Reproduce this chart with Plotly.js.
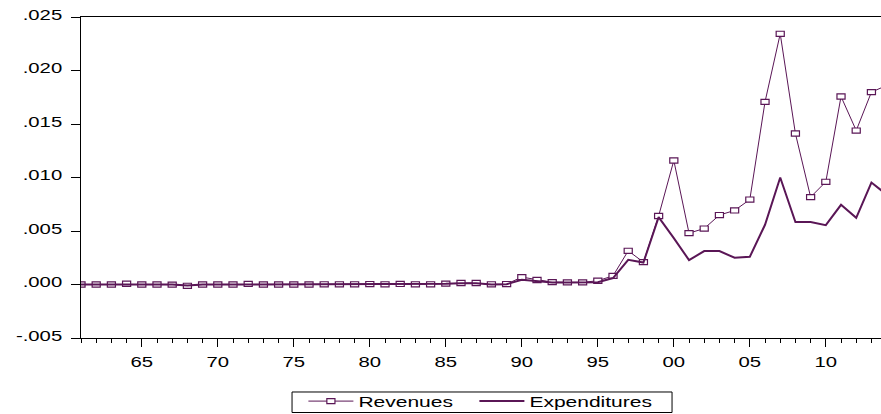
<!DOCTYPE html>
<html><head><meta charset="utf-8">
<script src="https://cdn.plot.ly/plotly-3.0.1.min.js"></script>
<style>html,body{margin:0;padding:0;background:#fff;} #chart{width:881px;height:414px;}</style>
</head><body><div id="chart"></div>
<script>
const years = [1961,1962,1963,1964,1965,1966,1967,1968,1969,1970,
  1971,1972,1973,1974,1975,1976,1977,1978,1979,1980,
  1981,1982,1983,1984,1985,1986,1987,1988,1989,1990,
  1991,1992,1993,1994,1995,1996,1997,1998,1999,2000,
  2001,2002,2003,2004,2005,2006,2007,2008,2009,2010,
  2011,2012,2013,2014];
const revenues = [0.00000,0.00000,0.00000,0.00007,0.00000,0.00000,-0.00001,-0.00012,0.00000,0.00000,
  0.00000,0.00005,0.00000,0.00000,0.00000,0.00000,0.00002,0.00002,0.00002,0.00004,
  0.00002,0.00005,0.00002,0.00002,0.00008,0.00014,0.00014,0.00002,0.00004,0.00069,
  0.00042,0.00022,0.00020,0.00020,0.00035,0.00081,0.00315,0.00209,0.00640,0.01159,
  0.00480,0.00523,0.00649,0.00692,0.00794,0.01707,0.02343,0.01411,0.00817,0.00960,
  0.01757,0.01439,0.01798,0.01860];
const expenditures = [0.00000,0.00000,0.00000,0.00004,0.00000,0.00000,-0.00001,-0.00010,0.00000,0.00000,
  0.00000,0.00003,0.00000,0.00000,0.00000,0.00000,0.00001,0.00001,0.00001,0.00003,
  0.00001,0.00003,0.00001,0.00001,0.00006,0.00011,0.00011,0.00001,0.00003,0.00045,
  0.00028,0.00018,0.00018,0.00018,0.00022,0.00060,0.00231,0.00205,0.00630,0.00434,
  0.00228,0.00312,0.00312,0.00250,0.00259,0.00558,0.01000,0.00583,0.00583,0.00555,
  0.00745,0.00623,0.00953,0.00840];
const xTickVals = [1965,1970,1975,1980,1985,1990,1995,2000,2005,2010];
const xTickText = ['65','70','75','80','85','90','95','00','05','10'];
const yTickVals = [-0.005,0,0.005,0.010,0.015,0.020,0.025];
const yTickText = ['-.005','.000','.005','.010','.015','.020','.025'];

const C = '#5a1656';
const FONT = 'Liberation Sans, Arial, sans-serif';
const FSIZE = 14;

const traces = [
  {x: years, y: revenues, name: 'Revenues', type: 'scatter', mode: 'lines+markers',
   legendwidth: 111,
   line: {color: C, width: 1},
   marker: {symbol: 'square', size: 6, color: '#ffffff', line: {color: C, width: 1.2}}},
  {x: years, y: expenditures, name: 'Expenditures', type: 'scatter', mode: 'lines',
   legendwidth: 136,
   line: {color: C, width: 2}}
];

const layout = {
  width: 881, height: 414,
  margin: {l: 81, r: 0, t: 17, b: 76, autoexpand: false},
  paper_bgcolor: '#fff', plot_bgcolor: '#fff',
  font: {family: FONT, size: FSIZE, color: '#000'},
  showlegend: true,
  xaxis: {
    range: [1961, 2013.63], tickmode: 'array', tickvals: xTickVals, ticktext: xTickText,
    ticks: 'outside', ticklen: 8, tickwidth: 1, tickcolor: '#000',
    showline: true, linecolor: '#000', linewidth: 1, mirror: true,
    showgrid: false, zeroline: false, ticklabelstandoff: 3,
    tickfont: {family: FONT, size: FSIZE, color: '#000'},
    minor: {tickmode: 'linear', tick0: 1961, dtick: 1, ticks: 'outside', ticklen: 4, tickwidth: 1, tickcolor: '#000', showgrid: false}
  },
  yaxis: {
    range: [-0.005, 0.025], tickmode: 'array', tickvals: yTickVals, ticktext: yTickText,
    ticks: 'outside', ticklen: 9, tickwidth: 1, tickcolor: '#000',
    showline: true, linecolor: '#000', linewidth: 1, mirror: false,
    showgrid: false, zeroline: false, ticklabelstandoff: 6, ticklabelshift: -2,
    tickfont: {family: FONT, size: FSIZE, color: '#000'}
  },
  legend: {
    orientation: 'h', x: 0.278, xanchor: 'left', y: -0.148, yanchor: 'top',
    itemwidth: 45,
    borderwidth: 0, bgcolor: 'rgba(0,0,0,0)',
    font: {family: FONT, size: FSIZE, color: '#000'}
  },
  shapes: [
    {type: 'rect', xref: 'paper', yref: 'paper', x0: 0.2638, x1: 0.7388, y0: -0.1682, y1: -0.2321,
     line: {color: '#000', width: 1}, fillcolor: 'rgba(0,0,0,0)', layer: 'below'}
  ]
};

Plotly.newPlot('chart', traces, layout, {displayModeBar: false, staticPlot: true}).then(function (gd) {
  const ctx = document.createElement('canvas').getContext('2d');
  ctx.font = FSIZE + 'px "Liberation Sans", Arial, sans-serif';
  function stretch(sel, s) {
    gd.querySelectorAll(sel).forEach(function (t) {
      const w = ctx.measureText(t.textContent).width;
      if (w > 0) {
        t.setAttribute('textLength', (w * s).toFixed(2));
        t.setAttribute('lengthAdjust', 'spacingAndGlyphs');
      }
    });
  }
  stretch('.xtick text', 1.45);
  stretch('.ytick text', 1.45);
  stretch('text.legendtext', 1.5);
  // flatten the square markers into the small rectangles of the reference
  gd.querySelectorAll('.scatterlayer path.point, .legend path.scatterpts').forEach(function (p) {
    const tr = p.getAttribute('transform') || '';
    p.setAttribute('transform', tr + ' scale(1.35,0.85)');
    p.style.vectorEffect = 'non-scaling-stroke';
  });
});
</script>
</body></html>
